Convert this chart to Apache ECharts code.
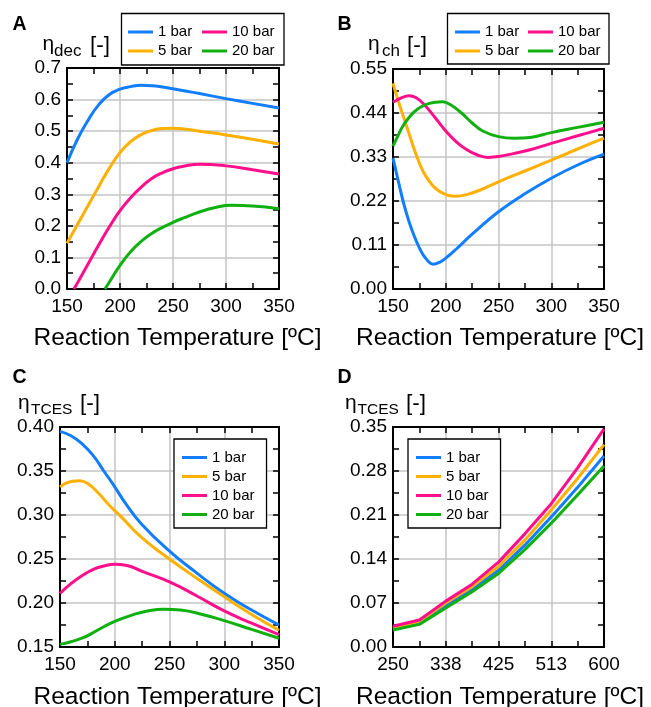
<!DOCTYPE html>
<html>
<head>
<meta charset="utf-8">
<script src="https://cdn.jsdelivr.net/npm/echarts@6/dist/echarts.min.js"></script>
<style>
  html, body { margin: 0; padding: 0; background: #fff; }
  #chart { width: 651px; height: 707px; }
</style>
</head>
<body>
<div id="chart"></div>
<script>
// panel A: eta_dec
const xA = [150, 160, 170, 180, 190, 200, 210, 220, 230, 240, 250, 260, 275, 300, 325, 350];
const a1 = [0.40, 0.475, 0.535, 0.584, 0.616, 0.633, 0.641, 0.645, 0.644, 0.64, 0.634, 0.628, 0.619, 0.603, 0.588, 0.573];
const a5 = [0.145, 0.205, 0.265, 0.325, 0.383, 0.432, 0.467, 0.489, 0.502, 0.508, 0.509, 0.507, 0.50, 0.488, 0.474, 0.459];
const xA10 = [156.5, 160, 170, 180, 190, 200, 210, 220, 230, 240, 250, 260, 275, 300, 325, 350];
const a10 = [0, 0.02, 0.08, 0.14, 0.197, 0.248, 0.289, 0.323, 0.35, 0.368, 0.381, 0.389, 0.395, 0.39, 0.378, 0.364];
const xA20 = [185.8, 190, 200, 210, 220, 230, 240, 250, 260, 275, 290, 305, 325, 350];
const a20 = [0, 0.022, 0.075, 0.118, 0.151, 0.176, 0.195, 0.211, 0.225, 0.244, 0.258, 0.265, 0.263, 0.254];

// panel B: eta_ch
const xB1 = [150, 155, 160, 165, 170, 175, 180, 188, 195, 200, 210, 225, 250, 275, 300, 325, 350];
const b1 = [0.327, 0.27, 0.215, 0.17, 0.133, 0.103, 0.08, 0.062, 0.068, 0.077, 0.1, 0.137, 0.193, 0.238, 0.277, 0.31, 0.337];
const xB5 = [150, 155, 160, 165, 170, 175, 180, 190, 200, 208, 220, 235, 250, 275, 300, 325, 350];
const b5 = [0.514, 0.47, 0.43, 0.39, 0.35, 0.315, 0.287, 0.252, 0.236, 0.232, 0.236, 0.25, 0.268, 0.295, 0.322, 0.35, 0.377];
const xB10 = [150, 158, 165, 172, 180, 190, 200, 210, 220, 230, 240, 250, 265, 280, 300, 325, 350];
const b10 = [0.467, 0.478, 0.483, 0.478, 0.46, 0.428, 0.395, 0.368, 0.348, 0.335, 0.329, 0.331, 0.339, 0.348, 0.364, 0.383, 0.402];
const xB20 = [150, 155, 160, 170, 180, 190, 197, 205, 215, 225, 235, 250, 265, 280, 300, 325, 350];
const b20 = [0.357, 0.385, 0.41, 0.443, 0.46, 0.467, 0.468, 0.46, 0.44, 0.415, 0.395, 0.381, 0.377, 0.379, 0.391, 0.404, 0.417];

// panel C: eta_TCES vs 150-350
const xC1 = [150, 160, 170, 180, 190, 200, 210, 225, 250, 275, 300, 325, 350];
const c1 = [0.395, 0.39, 0.381, 0.368, 0.35, 0.332, 0.313, 0.289, 0.259, 0.234, 0.211, 0.192, 0.175];
const xC5 = [150, 160, 168, 175, 185, 195, 205, 225, 250, 275, 300, 325, 350];
const c5 = [0.332, 0.338, 0.339, 0.336, 0.325, 0.311, 0.299, 0.274, 0.25, 0.228, 0.207, 0.187, 0.169];
const xC10 = [150, 160, 170, 180, 190, 200, 210, 225, 250, 275, 300, 325, 350];
const c10 = [0.211, 0.222, 0.231, 0.238, 0.242, 0.244, 0.243, 0.236, 0.224, 0.208, 0.191, 0.177, 0.164];
const xC20 = [150, 160, 170, 180, 190, 200, 215, 230, 245, 260, 280, 300, 325, 350];
const c20 = [0.153, 0.156, 0.16, 0.166, 0.173, 0.179, 0.186, 0.191, 0.193, 0.192, 0.187, 0.18, 0.17, 0.16];

// panel D: eta_TCES vs 250-600
const xD = [250, 293.75, 337.5, 381.25, 425, 468.75, 512.5, 556.25, 600];
const d1 = [0.029, 0.038, 0.066, 0.092, 0.122, 0.162, 0.207, 0.254, 0.304];
const d5 = [0.031, 0.041, 0.070, 0.096, 0.128, 0.170, 0.218, 0.268, 0.322];
const d10 = [0.033, 0.043, 0.073, 0.100, 0.135, 0.180, 0.228, 0.285, 0.347];
const d20 = [0.027, 0.036, 0.062, 0.088, 0.117, 0.155, 0.197, 0.242, 0.288];

const names = ['1 bar', '5 bar', '10 bar', '20 bar'];
const colors = { '1 bar': '#117dff', '5 bar': '#ffb000', '10 bar': '#ff0f8c', '20 bar': '#10b010' };
const FONT = 'Liberation Sans, Arial, Helvetica, sans-serif';

const grids = [
  { left: 67, top: 68, width: 212, height: 221 },
  { left: 393, top: 69, width: 211, height: 220 },
  { left: 60, top: 427, width: 219, height: 220 },
  { left: 393, top: 427, width: 211, height: 220 }
];

const tickStyle = { color: '#000', width: 1.5 };

function xAxes(gi, min, max, interval, fmt) {
  const base = {
    gridIndex: gi, type: 'value', min, max, interval,
    axisLine: { show: true, onZero: false, lineStyle: { color: '#000', width: 2 } },
    axisTick: { show: true, inside: true, length: 6, lineStyle: tickStyle },
    minorTick: { show: true, splitNumber: 2, length: 6, lineStyle: tickStyle }
  };
  return [
    Object.assign({}, base, {
      position: 'bottom',
      splitLine: { show: true, lineStyle: { color: '#c4c4c4', width: 1.5 } },
      axisLabel: { fontSize: 19, fontFamily: FONT, color: '#000', margin: 8, formatter: fmt }
    }),
    Object.assign({}, base, {
      position: 'top',
      splitLine: { show: false },
      axisLabel: { show: false }
    })
  ];
}

function yAxes(gi, min, max, interval, fmt) {
  const base = {
    gridIndex: gi, type: 'value', min, max, interval,
    axisLine: { show: true, onZero: false, lineStyle: { color: '#000', width: 2 } },
    axisTick: { show: true, inside: true, length: 6, lineStyle: tickStyle },
    minorTick: { show: true, splitNumber: 2, length: 6, lineStyle: tickStyle }
  };
  return [
    Object.assign({}, base, {
      position: 'left',
      splitLine: { show: true, lineStyle: { color: '#c4c4c4', width: 1.5 } },
      axisLabel: { fontSize: 19, fontFamily: FONT, color: '#000', margin: 6, formatter: fmt }
    }),
    Object.assign({}, base, {
      position: 'right',
      splitLine: { show: false },
      axisLabel: { show: false }
    })
  ];
}

const f1 = v => v.toFixed(1);
const f2 = v => v.toFixed(2);
const f0 = v => String(Math.round(v));

const xAxis = [].concat(
  xAxes(0, 150, 350, 50, f0),
  xAxes(1, 150, 350, 50, f0),
  xAxes(2, 150, 350, 50, f0),
  xAxes(3, 250, 600, 87.5, f0)
);
const yAxis = [].concat(
  yAxes(0, 0, 0.7, 0.1, f1),
  yAxes(1, 0, 0.55, 0.11, f2),
  yAxes(2, 0.15, 0.40, 0.05, f2),
  yAxes(3, 0, 0.35, 0.07, f2)
);

function zip(xs, ys) {
  return xs.map((x, i) => [x, ys[i]]);
}

function line(gi, name, xs, ys, smooth) {
  return {
    name, type: 'line', xAxisIndex: gi * 2, yAxisIndex: gi * 2,
    data: zip(xs, ys), showSymbol: false, symbol: 'none',
    smooth: smooth, clip: true,
    lineStyle: { color: colors[name], width: 3 },
    itemStyle: { color: colors[name] },
    emphasis: { disabled: true }
  };
}

const series = [
  line(0, '1 bar', xA, a1, 0.5),
  line(0, '5 bar', xA, a5, 0.5),
  line(0, '10 bar', xA10, a10, 0.5),
  line(0, '20 bar', xA20, a20, 0.5),
  line(1, '1 bar', xB1, b1, 0.4),
  line(1, '5 bar', xB5, b5, 0.4),
  line(1, '10 bar', xB10, b10, 0.4),
  line(1, '20 bar', xB20, b20, 0.4),
  line(2, '1 bar', xC1, c1, 0.5),
  line(2, '5 bar', xC5, c5, 0.5),
  line(2, '10 bar', xC10, c10, 0.5),
  line(2, '20 bar', xC20, c20, 0.5),
  line(3, '1 bar', xD, d1, false),
  line(3, '5 bar', xD, d5, false),
  line(3, '10 bar', xD, d10, false),
  line(3, '20 bar', xD, d20, false)
];

// one legend column; boxed when padding is given
function legendCol(left, top, data, boxed) {
  return {
    left, top, orient: 'vertical', data,
    icon: 'rect',
    itemWidth: 25, itemHeight: 3, itemGap: 4,
    selectedMode: false,
    padding: boxed ? [11, 12, 6, 8] : 0,
    borderColor: '#000', borderWidth: boxed ? 1.3 : 0, borderRadius: 0,
    backgroundColor: boxed ? '#fff' : 'transparent',
    textStyle: { fontSize: 15, fontFamily: FONT, color: '#000' }
  };
}

const legend = [
  legendCol(128, 24.5, ['1 bar', '5 bar'], false),
  legendCol(202, 24.5, ['10 bar', '20 bar'], false),
  legendCol(455, 24.5, ['1 bar', '5 bar'], false),
  legendCol(528, 24.5, ['10 bar', '20 bar'], false),
  legendCol(174, 439, names, true),
  legendCol(408, 439, names, true)
];

function txt(x, y, s, size, bold, align) {
  return {
    type: 'text', x, y, silent: true,
    style: {
      text: s, fill: '#000', fontSize: size, fontFamily: FONT,
      fontWeight: bold ? 'bold' : 'normal',
      textAlign: align || 'left', textVerticalAlign: 'middle',
      align: align || 'left', verticalAlign: 'middle'
    }
  };
}

function box(x, y, w, h) {
  return {
    type: 'rect', silent: true, z: -1,
    shape: { x, y, width: w, height: h },
    style: { fill: '#fff', stroke: '#000', lineWidth: 1.3 }
  };
}

const xTitle = 'Reaction Temperature [ºC]';
const graphic = [
  box(121.5, 13.5, 162.5, 51.5),
  box(447.5, 13.5, 161.5, 50.5),
  txt(12.5, 25, 'A', 19.5, true),
  txt(337.5, 25, 'B', 19.5, true),
  txt(12.5, 377.5, 'C', 19.5, true),
  txt(337.5, 377.5, 'D', 19.5, true),
  // y labels
  txt(42.5, 44.5, 'η', 21), txt(54, 51.5, 'dec', 17), txt(90, 46, '[-]', 22.5),
  txt(368, 44.5, 'η', 21), txt(382, 51.5, 'ch', 17), txt(407, 46, '[-]', 22.5),
  txt(18, 403, 'η', 21), txt(31, 410, 'TCES', 15.5), txt(80, 404, '[-]', 22.5),
  txt(345, 403, 'η', 21), txt(357.5, 410, 'TCES', 15.5), txt(406, 404, '[-]', 22.5),
  // x titles
  txt(177.5, 338.4, xTitle, 24.5, false, 'center'),
  txt(500, 338.4, xTitle, 24.5, false, 'center'),
  txt(177.5, 697.5, xTitle, 24.5, false, 'center'),
  txt(500, 697.5, xTitle, 24.5, false, 'center')
];

const chart = echarts.init(document.getElementById('chart'), null, { renderer: 'canvas' });
chart.setOption({
  animation: false,
  backgroundColor: '#fff',
  grid: grids,
  xAxis, yAxis, series, legend, graphic
});
</script>
</body>
</html>
